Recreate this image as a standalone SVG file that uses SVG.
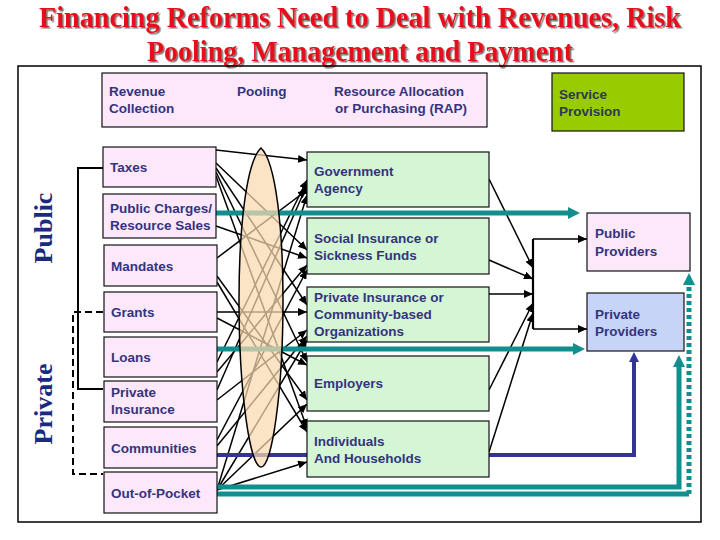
<svg xmlns="http://www.w3.org/2000/svg" width="720" height="540" viewBox="0 0 720 540">
<defs>
<style>
.title{font-family:"Liberation Serif","Times New Roman",serif;font-weight:bold;font-size:29px;text-anchor:middle;fill:#e8101a;filter:url(#shadow)}
.side{font-family:"Liberation Serif","Times New Roman",serif;font-weight:bold;font-size:26px;fill:#1a2a80;text-anchor:middle}
.lbl{font-family:"Liberation Sans",Arial,sans-serif;font-weight:bold;font-size:13.5px;fill:#34347e}
.pink{fill:#fde8fb;stroke:#111;stroke-width:1.2}
.green{fill:#d5f6d5;stroke:#111;stroke-width:1.2}
.blue{fill:#c6d4f8;stroke:#111;stroke-width:1.2}
.thin{fill:none;stroke:#000;stroke-width:1.5;marker-end:url(#ah)}
.teal{fill:none;stroke:#118f8f;stroke-width:5}
.navy{fill:none;stroke:#333399;stroke-width:4}
</style>
<filter id="shadow" x="-5%" y="-20%" width="110%" height="150%">
<feDropShadow dx="1.5" dy="1.5" stdDeviation="0.6" flood-color="#555" flood-opacity="0.8"/>
</filter>
<marker id="ah" markerUnits="userSpaceOnUse" markerWidth="10" markerHeight="8" refX="9" refY="4" orient="auto">
<path d="M0,0 L9,4 L0,8 Z" fill="#000"/>
</marker>
</defs>
<rect width="720" height="540" fill="#fff"/>

<g id="title">
<text class="title" x="360" y="27" textLength="642" lengthAdjust="spacingAndGlyphs">Financing Reforms Need to Deal with Revenues, Risk</text>
<text class="title" x="360" y="61" textLength="426" lengthAdjust="spacingAndGlyphs">Pooling, Management and Payment</text>
</g>

<rect id="frame" x="18" y="66" width="683" height="456" fill="none" stroke="#000" stroke-width="1.5"/>

<g id="side-labels">
<text class="side" transform="translate(52,228) rotate(-90)">Public</text>
<text class="side" transform="translate(52,404) rotate(-90)">Private</text>
<path d="M103,168 H78 V389 H103" fill="none" stroke="#000" stroke-width="2"/>
<path d="M103,312 H73 V474 H103" fill="none" stroke="#000" stroke-width="2" stroke-dasharray="7 4"/>
</g>

<g id="connectors">
<path class="thin" d="M216,150 L307,160"/>
<path class="thin" d="M216,163 L307,250"/>
<path class="thin" d="M216,168 L307,305"/>
<path class="thin" d="M216,172 L307,362"/>
<path class="thin" d="M216,176 L307,428"/>
<path class="thin" d="M216,226 L307,258"/>
<path class="thin" d="M217,258 L307,190"/>
<path class="thin" d="M217,276 L307,400"/>
<path class="thin" d="M217,282 L307,432"/>
<path class="thin" d="M217,312 L307,312"/>
<path class="thin" d="M217,318 L307,365"/>
<path class="thin" d="M217,362 L307,180"/>
<path class="thin" d="M217,372 L307,265"/>
<path class="thin" d="M217,390 L307,185"/>
<path class="thin" d="M217,400 L307,330"/>
<path class="thin" d="M217,440 L307,270"/>
<path class="thin" d="M217,446 L307,336"/>
<path class="thin" d="M217,490 L307,195"/>
<path class="thin" d="M217,490 L307,340"/>
<path class="thin" d="M217,490 L307,404"/>
<path class="thin" d="M217,490 L307,462"/>

<path class="thin" d="M489,179 L533,268"/>
<path class="thin" d="M489,260 L533,279"/>
<path class="thin" d="M489,294 L533,294"/>
<path class="thin" d="M489,390 L533,303"/>
<path class="thin" d="M489,452 L533,313"/>
<path d="M533,239 V329" stroke="#000" stroke-width="2.2" fill="none"/>
<path class="thin" d="M533,239 L587,239" stroke-width="2"/>
<path class="thin" d="M533,329 L587,329" stroke-width="2"/>

<path class="teal" d="M216,213 H569"/>
<polygon points="568,207 580,213 568,219" fill="#118f8f"/>
<path class="teal" d="M217,349 H574"/>
<polygon points="573,343 585,349 573,355" fill="#118f8f"/>
<path class="teal" d="M217,487 H679 V366"/>
<polygon points="673,367 679,355 685,367" fill="#118f8f"/>
<path class="teal" d="M217,494 H689"/>
<path class="teal" d="M689,494 V284" stroke-dasharray="4 3"/>
<polygon points="683,285 689,273 695,285" fill="#118f8f"/>
<path class="navy" d="M217,455 H634 V361"/>
<polygon points="629,362 634,352 639,362" fill="#333399"/>
</g>

<g id="pooling-oval">
<path d="M261,148 C276,162 283,230 283,300 C283,392 272,467 261,467 C250,467 239,392 239,300 C239,230 246,162 261,148 Z" fill="#f9d8b0" fill-opacity="0.72" stroke="#000" stroke-width="1.5"/>
</g>

<g id="header">
<rect class="pink" x="102" y="73" width="385" height="54"/>
<text class="lbl" x="109" y="96">Revenue</text>
<text class="lbl" x="109" y="113">Collection</text>
<text class="lbl" x="237" y="96">Pooling</text>
<text class="lbl" x="399" y="96" text-anchor="middle">Resource Allocation</text>
<text class="lbl" x="401" y="113" text-anchor="middle">or Purchasing (RAP)</text>
</g>
<g id="service-provision">
<rect x="552" y="73" width="132" height="58" fill="#99cc00" stroke="#111" stroke-width="1.2"/>
<text class="lbl" x="559" y="99" style="fill:#2b3a55">Service</text>
<text class="lbl" x="559" y="116" style="fill:#2b3a55">Provision</text>
</g>

<g id="taxes"><rect class="pink" x="103" y="147" width="113" height="40"/><text class="lbl" x="110" y="172">Taxes</text></g>
<g id="public-charges"><rect class="pink" x="103" y="194" width="113" height="44"/><text class="lbl" x="110" y="213">Public Charges/</text><text class="lbl" x="110" y="230">Resource Sales</text></g>
<g id="mandates"><rect class="pink" x="104" y="245" width="113" height="41"/><text class="lbl" x="111" y="271">Mandates</text></g>
<g id="grants"><rect class="pink" x="104" y="292" width="113" height="40"/><text class="lbl" x="111" y="317">Grants</text></g>
<g id="loans"><rect class="pink" x="104" y="337" width="113" height="40"/><text class="lbl" x="111" y="362">Loans</text></g>
<g id="private-insurance"><rect class="pink" x="104" y="381" width="113" height="41"/><text class="lbl" x="111" y="397">Private</text><text class="lbl" x="111" y="414">Insurance</text></g>
<g id="communities"><rect class="pink" x="104" y="427" width="113" height="41"/><text class="lbl" x="111" y="453">Communities</text></g>
<g id="out-of-pocket"><rect class="pink" x="104" y="472" width="113" height="41"/><text class="lbl" x="111" y="498">Out-of-Pocket</text></g>

<g id="government-agency"><rect class="green" x="307" y="152" width="182" height="55"/><text class="lbl" x="314" y="176">Government</text><text class="lbl" x="314" y="193">Agency</text></g>
<g id="social-insurance"><rect class="green" x="307" y="218" width="182" height="56"/><text class="lbl" x="314" y="243">Social Insurance or</text><text class="lbl" x="314" y="260">Sickness Funds</text></g>
<g id="private-insurance-cbo"><rect class="green" x="307" y="287" width="182" height="55"/><text class="lbl" x="314" y="302">Private Insurance or</text><text class="lbl" x="314" y="319">Community-based</text><text class="lbl" x="314" y="336">Organizations</text></g>
<g id="employers"><rect class="green" x="307" y="356" width="182" height="55"/><text class="lbl" x="314" y="388">Employers</text></g>
<g id="individuals"><rect class="green" x="307" y="421" width="182" height="56"/><text class="lbl" x="314" y="446">Individuals</text><text class="lbl" x="314" y="463">And Households</text></g>

<g id="public-providers"><rect class="pink" x="587" y="213" width="103" height="58"/><text class="lbl" x="595" y="238">Public</text><text class="lbl" x="595" y="256">Providers</text></g>
<g id="private-providers"><rect class="blue" x="587" y="293" width="97" height="58"/><text class="lbl" x="595" y="319">Private</text><text class="lbl" x="595" y="336">Providers</text></g>
</svg>
